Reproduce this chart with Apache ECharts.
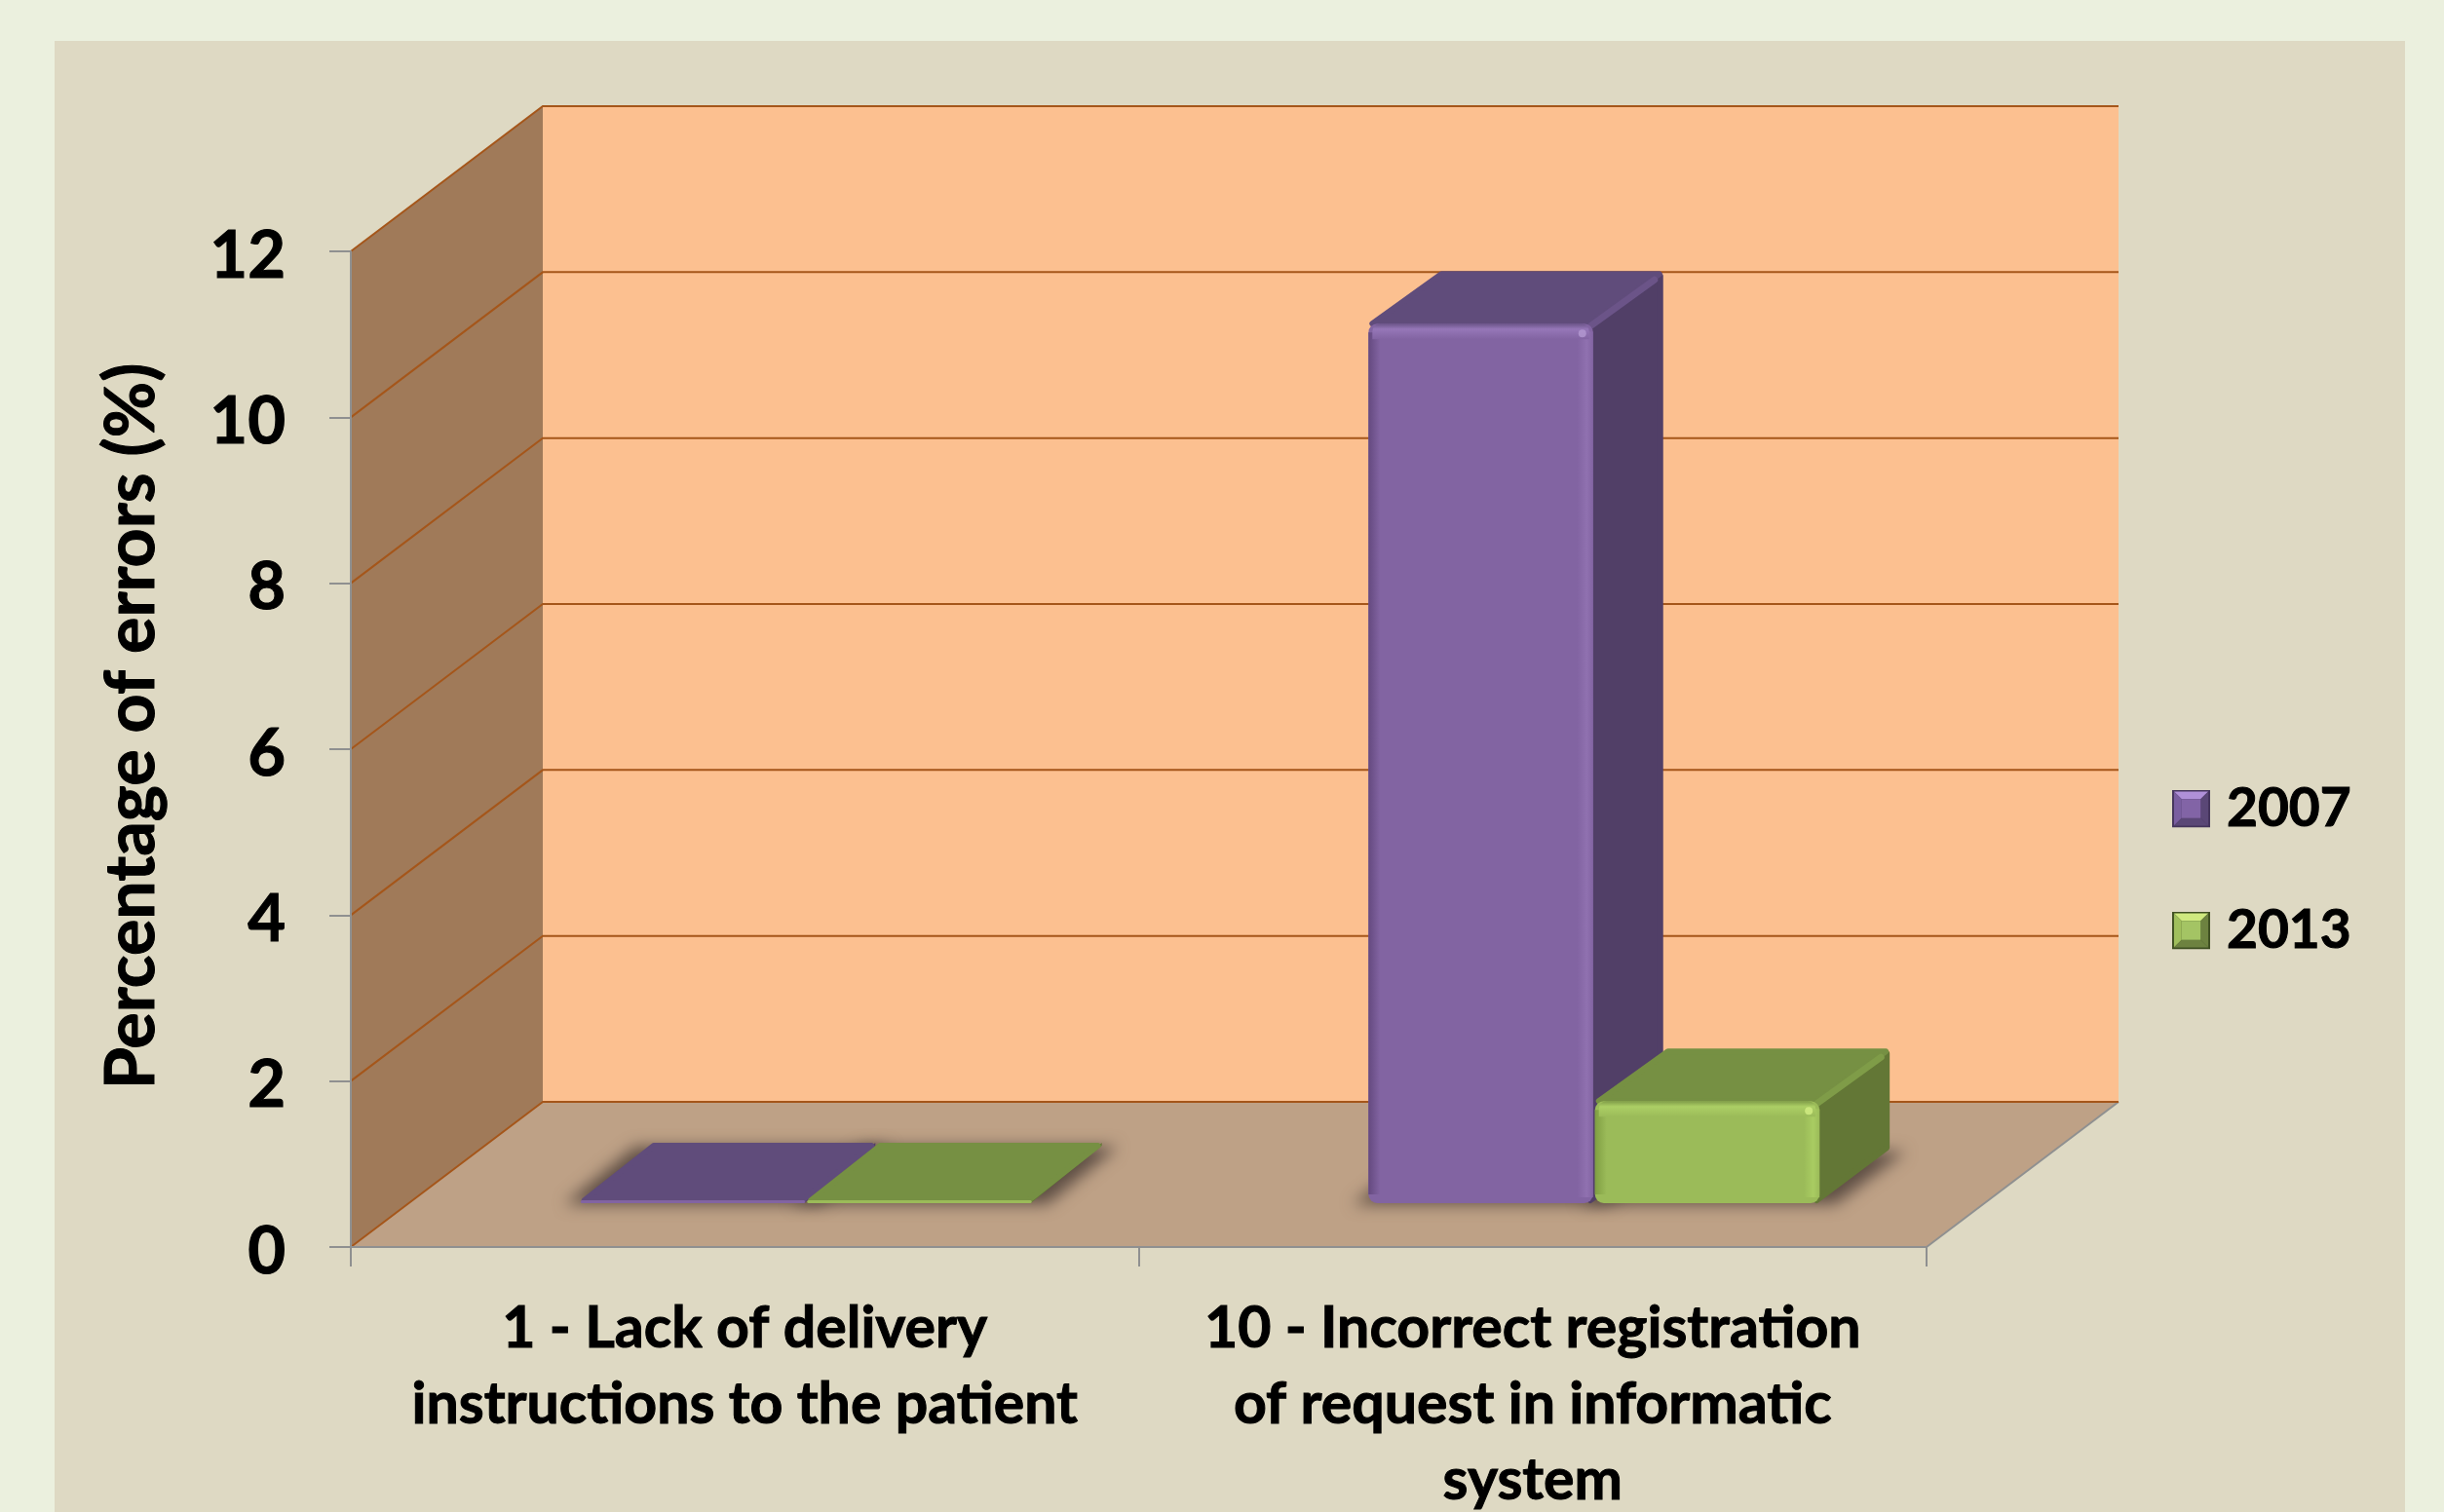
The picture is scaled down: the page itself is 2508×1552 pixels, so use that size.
<!DOCTYPE html>
<html>
<head>
<meta charset="utf-8">
<title>Percentage of errors</title>
<script src="https://cdn.jsdelivr.net/npm/echarts@6/dist/echarts.min.js"></script>
<style>
  html, body { margin: 0; padding: 0; background: #ebf0de; }
  #chart { width: 2508px; height: 1552px; }
</style>
</head>
<body>
<div id="chart"></div>
<script>
// values
const categories = [
  '1 - Lack of delivery\ninstructions to the patient',
  '10 - Incorrect registration\nof request in informatic\nsystem'
]
const values2007 = [0, 10.6]
const values2013 = [0, 1.23]
const yTicks = [0, 2, 4, 6, 8, 10, 12]

// depth of the fake 3d box, in px
const WALL_DX = 197
const WALL_DY = 149
// where the bars stand inside that box
const BAR_SHIFT_X = 63
const BAR_SHIFT_Y = 45
const BAR_DX = 72
const BAR_DY = 54
// shadow polygon is drawn off canvas, only its blur lands on the floor
const OFF = 4000

const FONT = 'Lato'

const purple = {
  front: '#8264a2', left: '#64497f', right: '#9071b0', top: '#604c7b', side: '#513f67',
  hi: '#9677b8', edge: '#6b5488', spot: '#b49ad2'
}
const green = {
  front: '#9bbb59', left: '#7f9e42', right: '#a9cc62', top: '#769043', side: '#637736',
  hi: '#accf65', edge: '#7f9c48', spot: '#d3ee84'
}

function bevelIcon(light, base, mid, dark, edge) {
  const svg = '<svg xmlns="http://www.w3.org/2000/svg" width="40" height="40" viewBox="0 0 40 40">' +
    '<rect width="40" height="40" fill="' + edge + '"/>' +
    '<polygon points="2,2 38,2 30,10 10,10" fill="' + light + '"/>' +
    '<polygon points="2,2 10,10 10,30 2,38" fill="' + mid + '"/>' +
    '<polygon points="38,2 30,10 30,30 38,38" fill="' + dark + '"/>' +
    '<polygon points="2,38 10,30 30,30 38,38" fill="' + dark + '"/>' +
    '<rect x="10" y="10" width="20" height="20" fill="' + base + '"/>' +
    '</svg>'
  return 'image://data:image/svg+xml;charset=utf-8,' + encodeURIComponent(svg)
}

// walls, floor and the grid lines on them
function renderWalls(params, api) {
  const tick = api.value(0)
  const cs = params.coordSys
  const left = cs.x
  const right = cs.x + cs.width
  const bottom = cs.y + cs.height
  const y = api.coord([0, tick])[1]
  const children = []
  if (params.dataIndex === 0) {
    const topY = cs.y
    children.push({
      type: 'polygon',
      shape: { points: [[left, bottom], [left + WALL_DX, bottom - WALL_DY], [left + WALL_DX, topY - WALL_DY], [left, topY]] },
      style: { fill: '#a07a59' }
    })
    children.push({
      type: 'rect',
      shape: { x: left + WALL_DX, y: topY - WALL_DY, width: cs.width, height: cs.height },
      style: { fill: '#fcc090' }
    })
    children.push({
      type: 'polygon',
      shape: { points: [[left, bottom], [right, bottom], [right + WALL_DX, bottom - WALL_DY], [left + WALL_DX, bottom - WALL_DY]] },
      style: { fill: '#bea186' }
    })
    children.push({
      type: 'line',
      shape: { x1: right, y1: bottom, x2: right + WALL_DX, y2: bottom - WALL_DY },
      style: { stroke: '#8f9090', lineWidth: 2 }
    })
  }
  children.push({
    type: 'polyline',
    shape: { points: [[left, y], [left + WALL_DX, y - WALL_DY], [right + WALL_DX, y - WALL_DY]] },
    style: { stroke: '#a5561a', lineWidth: 2, fill: null }
  })
  return { type: 'group', children: children }
}

function renderBar(colors, side) {
  return function (params, api) {
    const cat = api.value(0)
    const val = api.value(1)
    const cx = api.coord([cat, 0])[0]
    const band = api.size([1, 0])[0]
    const w = band * 0.285
    const x = cx + BAR_SHIFT_X + (side < 0 ? -w - 1 : 1)
    const base = api.coord([cat, 0])[1] - BAR_SHIFT_Y
    const flat = val <= 0
    const top = flat ? base - 3 : api.coord([cat, val])[1] - BAR_SHIFT_Y
    const h = base - top
    const dy = flat ? BAR_DY + 5 : BAR_DY
    const r = flat ? 1.5 : 9
    const children = []

    // soft shadow on the floor
    children.push({
      type: 'polygon',
      z2: -10,
      shape: {
        points: [
          [x - 16 - OFF, base + 1],
          [x + w + 16 - OFF, base + 1],
          [x + w + BAR_DX + 16 - OFF, base - dy + 1],
          [x + BAR_DX - 16 - OFF, base - dy + 1]
        ]
      },
      style: { fill: '#5f4f45', shadowBlur: 16, shadowColor: '#5f4f45', shadowOffsetX: OFF }
    })
    // right side
    if (flat) {
      children.push({
        type: 'polygon',
        shape: { points: [[x + w - 1, top], [x + w + BAR_DX, top - dy], [x + w + BAR_DX, top - dy + 3], [x + w - 1, base]] },
        style: { fill: colors.side }
      })
    } else {
      children.push({
        type: 'polygon',
        shape: { points: [[x + w - 3, top + 3], [x + w + BAR_DX - 3, top - dy + 5], [x + w + BAR_DX - 3, base - dy - 3], [x + w - 3, base - 3]] },
        style: { fill: colors.side, stroke: colors.side, lineWidth: 6, lineJoin: 'round' }
      })
    }
    // top face
    children.push({
      type: 'polygon',
      shape: { points: [[x + 4, top], [x + w - 3, top], [x + w + BAR_DX - 4, top - dy + 3], [x + BAR_DX + 3, top - dy + 3]] },
      style: { fill: colors.top, stroke: colors.top, lineWidth: 6, lineJoin: 'round' }
    })
    if (!flat) {
      // lit edge between top and side
      children.push({
        type: 'line',
        shape: { x1: x + w - 2, y1: top + 2, x2: x + w + BAR_DX - 9, y2: top - dy + 9 },
        style: { stroke: colors.edge, lineWidth: 7, lineCap: 'round' }
      })
    }
    // front
    children.push({
      type: 'rect',
      shape: { x: x, y: top, width: w, height: h, r: r },
      style: { fill: colors.front }
    })
    if (!flat) {
      children.push({
        type: 'rect',
        shape: { x: x, y: top + r, width: 12, height: h - r * 2 },
        style: { fill: { type: 'linear', x: 0, y: 0, x2: 1, y2: 0, colorStops: [{ offset: 0, color: colors.left }, { offset: 1, color: colors.front }] } }
      })
      children.push({
        type: 'rect',
        shape: { x: x + w - 16, y: top + 8, width: 16, height: h - 14 },
        style: { fill: { type: 'linear', x: 0, y: 0, x2: 1, y2: 0, colorStops: [{ offset: 0, color: colors.front }, { offset: 0.6, color: colors.right }, { offset: 1, color: colors.front }] } }
      })
      children.push({
        type: 'rect',
        shape: { x: x + 4, y: top, width: w - 8, height: 16, r: [8, 8, 0, 0] },
        style: { fill: { type: 'linear', x: 0, y: 0, x2: 0, y2: 1, colorStops: [{ offset: 0, color: colors.edge }, { offset: 0.35, color: colors.hi }, { offset: 1, color: colors.front }] } }
      })
      children.push({
        type: 'circle',
        shape: { cx: x + w - 11, cy: top + 10, r: 4 },
        style: { fill: colors.spot, opacity: 0.8 }
      })
    }
    return { type: 'group', children: children }
  }
}

const boldText = { color: '#000', fontFamily: FONT, fontWeight: 'bold', textBorderColor: '#000', textBorderWidth: 1 }

const chart = echarts.init(document.getElementById('chart'))
chart.setOption({
  animation: false,
  backgroundColor: '#ebf0de',
  textStyle: { fontFamily: FONT },
  graphic: [{
    type: 'rect',
    silent: true,
    shape: { x: 56, y: 42, width: 2412, height: 1510 },
    style: { fill: '#ded9c3' }
  }],
  grid: { left: 360, top: 258, width: 1617, height: 1022, outerBoundsMode: 'none' },
  xAxis: {
    type: 'category',
    data: categories,
    z: 5,
    axisLine: { lineStyle: { color: '#8f9090', width: 2 } },
    axisTick: { show: true, length: 20, alignWithLabel: false, lineStyle: { color: '#8f9090', width: 2 } },
    axisLabel: Object.assign({}, boldText, {
      interval: 0,
      margin: 45,
      fontSize: 59,
      lineHeight: 78
    })
  },
  yAxis: {
    type: 'value',
    min: 0,
    max: 12,
    interval: 2,
    z: 5,
    name: 'Percentage of errors (%)',
    nameLocation: 'middle',
    nameGap: 190,
    nameRotate: 90,
    nameTextStyle: Object.assign({}, boldText, {
      fontSize: 70,
      padding: [0, 0, 0, 47]
    }),
    splitLine: { show: false },
    axisLine: { show: true, lineStyle: { color: '#8f9090', width: 2 } },
    axisTick: { show: true, length: 22, lineStyle: { color: '#8f9090', width: 2 } },
    axisLabel: Object.assign({}, boldText, {
      margin: 67,
      fontSize: 67,
      // labels sit a few px under their tick
      verticalAlign: 'top',
      lineHeight: 10
    })
  },
  legend: {
    orient: 'vertical',
    left: 2229,
    top: 802,
    padding: 0,
    itemWidth: 39,
    itemHeight: 39,
    itemGap: 69,
    textStyle: Object.assign({}, boldText, { fontSize: 55, padding: [0, 0, 0, 12] }),
    data: [
      { name: '2007', icon: bevelIcon('#b090d8', '#8264a6', '#7a5ea0', '#5a4776', '#45355c') },
      { name: '2013', icon: bevelIcon('#cfe97f', '#a4c464', '#a0bf5c', '#6d8240', '#3f4f22') }
    ]
  },
  series: [
    {
      type: 'custom',
      silent: true,
      z: 1,
      renderItem: renderWalls,
      encode: { y: 0 },
      data: yTicks.map(function (t) { return [t] })
    },
    {
      name: '2007',
      type: 'custom',
      z: 2,
      itemStyle: { color: purple.front },
      renderItem: renderBar(purple, -1),
      encode: { x: 0, y: 1 },
      data: values2007.map(function (v, i) { return [i, v] })
    },
    {
      name: '2013',
      type: 'custom',
      z: 2,
      itemStyle: { color: green.front },
      renderItem: renderBar(green, 1),
      encode: { x: 0, y: 1 },
      data: values2013.map(function (v, i) { return [i, v] })
    }
  ]
})
</script>
</body>
</html>
